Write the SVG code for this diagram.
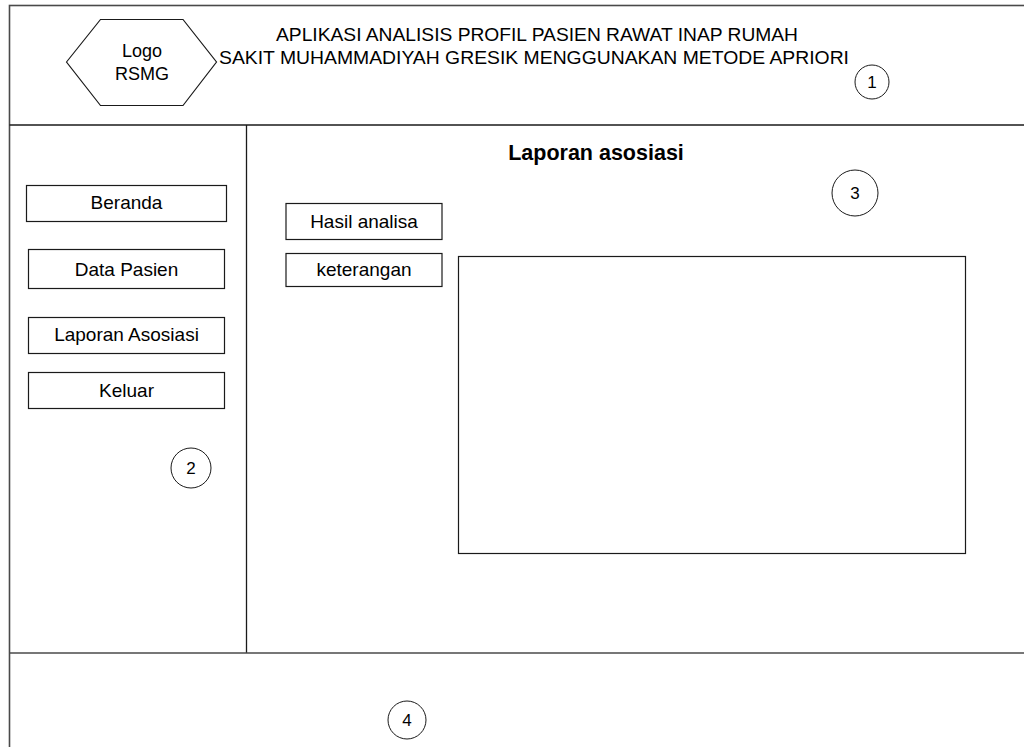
<svg xmlns="http://www.w3.org/2000/svg" width="1024" height="747" viewBox="0 0 1024 747">
  <style>
    .frame { fill: none; stroke: #4a4a4a; stroke-width: 1.6; }
    .div { fill: none; stroke: #1a1a1a; stroke-width: 1.3; }
    .box { fill: #ffffff; stroke: #1a1a1a; stroke-width: 1.2; }
    .num { fill: #ffffff; stroke: #1a1a1a; stroke-width: 1; }
    .t { font-family: "Liberation Sans", Arial, sans-serif; font-size: 19px; fill: #000000; text-anchor: middle; }
    .n { font-family: "Liberation Sans", Arial, sans-serif; font-size: 17px; fill: #000000; text-anchor: middle; }
    .h { font-family: "Liberation Sans", Arial, sans-serif; font-size: 21.5px; font-weight: bold; fill: #000000; text-anchor: middle; }
  </style>
  <rect x="0" y="0" width="1024" height="747" fill="#ffffff"/>

  <!-- page frame and section dividers -->
  <g id="layout">
    <rect class="frame" x="9.5" y="5.5" width="1030" height="760"/>
    <line class="div" x1="9.5" y1="125" x2="1030" y2="125"/>
    <line class="div" x1="246.5" y1="125" x2="246.5" y2="653"/>
    <line class="frame" x1="9.5" y1="653" x2="1030" y2="653"/>
  </g>

  <!-- header -->
  <g id="logo">
    <polygon class="box" points="66.5,62 100.5,19.5 183,19.5 216.5,62 183,105.5 100.5,105.5"/>
    <text class="t" x="142" y="57" style="font-size:18px">Logo</text>
    <text class="t" x="142" y="80" style="font-size:18px">RSMG</text>
  </g>
  <g id="title">
    <text class="t" x="537" y="41" textLength="522" lengthAdjust="spacingAndGlyphs">APLIKASI ANALISIS PROFIL PASIEN RAWAT INAP RUMAH</text>
    <text class="t" x="534" y="64" textLength="630" lengthAdjust="spacingAndGlyphs">SAKIT MUHAMMADIYAH GRESIK MENGGUNAKAN METODE APRIORI</text>
  </g>
  <g id="marker-1">
    <circle class="num" cx="872" cy="82" r="17"/>
    <text class="n" x="872" y="88">1</text>
  </g>

  <!-- sidebar menu -->
  <g id="menu-beranda">
    <rect class="box" x="26.5" y="185.5" width="200" height="36"/>
    <text class="t" x="126.5" y="209">Beranda</text>
  </g>
  <g id="menu-data-pasien">
    <rect class="box" x="28.5" y="249.5" width="196" height="39"/>
    <text class="t" x="126.5" y="276">Data Pasien</text>
  </g>
  <g id="menu-laporan-asosiasi">
    <rect class="box" x="28.5" y="317.5" width="196" height="36"/>
    <text class="t" x="126.5" y="341">Laporan Asosiasi</text>
  </g>
  <g id="menu-keluar">
    <rect class="box" x="28.5" y="372.5" width="196" height="36"/>
    <text class="t" x="126.5" y="397">Keluar</text>
  </g>
  <g id="marker-2">
    <circle class="num" cx="191" cy="468" r="20"/>
    <text class="n" x="191" y="474">2</text>
  </g>

  <!-- content area -->
  <g id="content-title">
    <text class="h" x="596" y="160">Laporan asosiasi</text>
  </g>
  <g id="marker-3">
    <circle class="num" cx="855" cy="193" r="23"/>
    <text class="n" x="855" y="199">3</text>
  </g>
  <g id="btn-hasil-analisa">
    <rect class="box" x="286" y="203.5" width="156" height="36"/>
    <text class="t" x="364" y="228">Hasil analisa</text>
  </g>
  <g id="btn-keterangan">
    <rect class="box" x="286" y="253.5" width="156" height="33"/>
    <text class="t" x="364" y="276">keterangan</text>
  </g>
  <g id="result-panel">
    <rect class="box" x="458.5" y="256.5" width="507" height="297"/>
  </g>

  <!-- footer -->
  <g id="marker-4">
    <circle class="num" cx="407" cy="720" r="19"/>
    <text class="n" x="407" y="726">4</text>
  </g>

  <g id="connectors"></g>
</svg>
